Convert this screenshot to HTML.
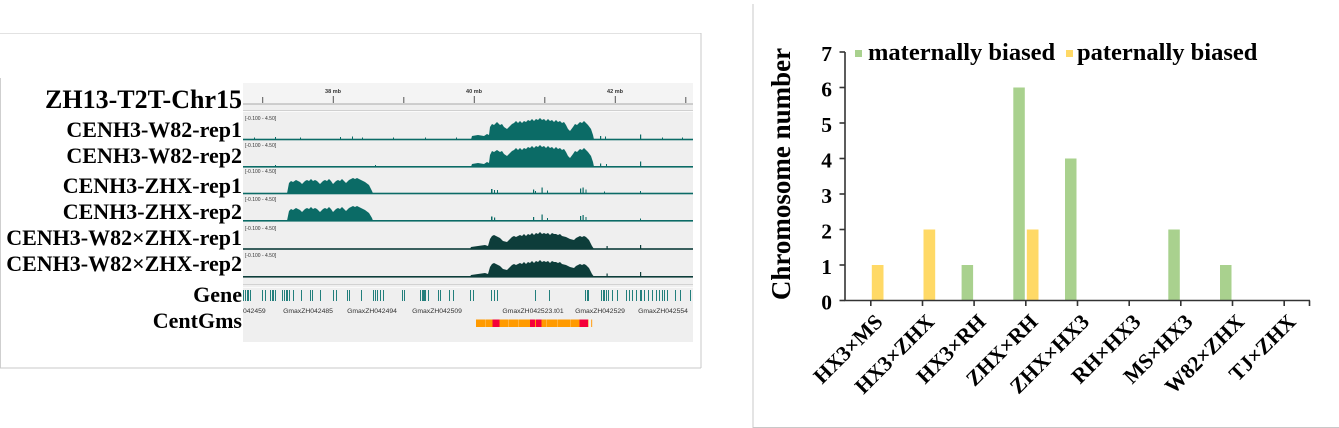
<!DOCTYPE html>
<html><head><meta charset="utf-8">
<style>
html,body{margin:0;padding:0;background:#fff;}
svg{display:block;}
.lab{font-family:"Liberation Serif",serif;font-weight:bold;fill:#000;}
.sm{font-family:"Liberation Sans",sans-serif;fill:#333;}
</style></head>
<body>
<svg width="1339" height="428" viewBox="0 0 1339 428" xmlns="http://www.w3.org/2000/svg">
<!-- Left panel borders -->
<line x1="0" y1="33.5" x2="701" y2="33.5" stroke="#e2e2e2" stroke-width="1"/>
<line x1="0.5" y1="78" x2="0.5" y2="368" stroke="#cfcfcf" stroke-width="1"/>
<line x1="701" y1="33" x2="701" y2="368" stroke="#c8c8c8" stroke-width="1"/>
<line x1="0" y1="368" x2="701" y2="368" stroke="#c8c8c8" stroke-width="1"/>
<!-- Right panel borders -->
<line x1="753" y1="4" x2="753" y2="428" stroke="#c8c8c8" stroke-width="1"/>
<line x1="753" y1="427.5" x2="1339" y2="427.5" stroke="#c8c8c8" stroke-width="1"/>

<!-- IGV background -->
<rect x="243" y="83" width="450" height="259" fill="#efefef"/>
<rect x="243" y="83" width="450" height="21" fill="#f4f4f4"/>
<!-- ruler -->
<g class="sm" font-size="5.5" font-weight="bold" text-anchor="middle">
<text x="333" y="93">38 mb</text>
<text x="474" y="93">40 mb</text>
<text x="615" y="93">42 mb</text>
</g>
<g stroke="#555" stroke-width="1">
<line x1="262.7" y1="97" x2="262.7" y2="103"/>
<line x1="333.3" y1="96" x2="333.3" y2="103"/>
<line x1="403.8" y1="97" x2="403.8" y2="103"/>
<line x1="474.3" y1="96" x2="474.3" y2="103"/>
<line x1="544.8" y1="97" x2="544.8" y2="103"/>
<line x1="615.3" y1="96" x2="615.3" y2="103"/>
<line x1="685.8" y1="97" x2="685.8" y2="103"/>
</g>
<line x1="243" y1="104" x2="693" y2="104" stroke="#a8a8a8" stroke-width="1"/>
<line x1="243" y1="110.5" x2="693" y2="110.5" stroke="#d0d0d0" stroke-width="1"/>
<line x1="243" y1="111.5" x2="693" y2="111.5" stroke="#fafafa" stroke-width="1"/>

<!-- track range labels -->
<g class="sm" font-size="5">
<text x="245" y="120">[-0.100 - 4.50]</text>
<text x="245" y="147">[-0.100 - 4.50]</text>
<text x="245" y="173">[-0.100 - 4.50]</text>
<text x="245" y="201">[-0.100 - 4.50]</text>
<text x="245" y="230">[-0.100 - 4.50]</text>
<text x="245" y="257">[-0.100 - 4.50]</text>
</g>

<!-- Track 1 W82 rep1 baseline 139.5 -->
<g fill="#0b6b66" stroke="none">
<rect x="243" y="138.7" width="450" height="1.6"/>
<path d="M471,139.5 L472,136 L478,135 L484,136 L487,134 L489,135 L490,127 L492,124 L494,125 L497,122 L500,125 L502,124 L504,127 L507,129 L510,126 L512,124 L514,123 L516,121 L518,123 L520,121 L522,123 L524,121 L526,122 L528,120 L530,121 L532,119 L534,121 L536,119 L538,120 L540,118 L542,120 L544,119 L546,121 L548,119 L550,121 L552,120 L554,122 L556,120 L558,122 L560,121 L562,123 L564,122 L566,125 L568,129 L570,131 L573,127 L575,124 L577,125 L580,122 L582,123 L584,121 L586,123 L588,125 L591,129 L593,135 L594,139.5 Z"/>
<rect x="254" y="137.5" width="1" height="2"/><rect x="275" y="137" width="1" height="2.5"/><rect x="300" y="137.5" width="1" height="2"/>
<rect x="340" y="137" width="1" height="2.5"/><rect x="352" y="136.5" width="1" height="3"/><rect x="362" y="137.5" width="1" height="2"/>
<rect x="393" y="137.5" width="1" height="2"/><rect x="425" y="137.5" width="1" height="2"/><rect x="456" y="137.5" width="1" height="2"/>
<rect x="600" y="136" width="1.2" height="3.5"/><rect x="605" y="136.5" width="1" height="3"/><rect x="640" y="134.5" width="1.2" height="5"/>
<rect x="662" y="137.5" width="1" height="2"/><rect x="682" y="137.5" width="1" height="2"/>
</g>
<!-- Track 2 baseline 166.8 -->
<g fill="#0b6b66">
<rect x="243" y="166" width="450" height="1.6"/>
<path d="M471,166.8 L472,164 L478,163 L484,164 L487,162 L489,163 L490,155 L492,151 L494,152 L497,150 L500,152 L502,151 L504,154 L507,156 L510,153 L512,151 L514,150 L516,148 L518,150 L520,148 L522,150 L524,148 L526,149 L528,147 L530,148 L532,146 L534,148 L536,146 L538,147 L540,145 L542,147 L544,146 L546,148 L548,146 L550,148 L552,147 L554,149 L556,147 L558,149 L560,148 L562,150 L564,149 L566,152 L568,156 L570,158 L573,154 L575,151 L577,152 L580,149 L582,150 L584,148 L586,150 L588,152 L591,156 L593,162 L594,166.8 Z"/>
<rect x="275" y="165" width="1" height="2"/><rect x="375" y="165" width="1" height="2"/>
<rect x="600" y="163.5" width="1.2" height="3.5"/><rect x="606" y="164" width="1" height="3"/><rect x="640" y="161.5" width="1.2" height="5.5"/>
</g>
<!-- Track 3 ZHX rep1 baseline 193.5 -->
<g fill="#0b6b66">
<rect x="243" y="192.7" width="450" height="1.6"/>
<path d="M287,193.5 L289,183 L291,181 L293,182 L296,180 L298,181 L300,182 L302,184 L305,181 L307,180 L309,181 L311,179 L313,181 L315,180 L317,181 L320,184 L323,181 L325,180 L327,181 L329,179 L331,181 L333,184 L336,181 L338,180 L340,181 L342,179 L344,181 L346,183 L349,180 L351,179 L353,178 L355,179 L357,178 L359,179 L361,180 L363,181 L365,182 L369,185 L372,191 L373,193.5 Z"/>
<rect x="491" y="189" width="1.5" height="4.5"/><rect x="494" y="190" width="1" height="3.5"/><rect x="497" y="190" width="1" height="3.5"/>
<rect x="533" y="189.5" width="1.2" height="4"/><rect x="535" y="191" width="1" height="2.5"/><rect x="541.5" y="187.5" width="1.2" height="6"/><rect x="547" y="190.5" width="1" height="3"/>
<rect x="580" y="188.5" width="1.2" height="5"/><rect x="582.5" y="187.5" width="1.2" height="6"/><rect x="585.5" y="189.5" width="1" height="4"/>
<rect x="640" y="191" width="1" height="2.5"/><rect x="604" y="191.5" width="1" height="2"/>
</g>
<!-- Track 4 baseline 220.8 -->
<g fill="#0b6b66">
<rect x="243" y="220" width="450" height="1.6"/>
<path d="M287,220.8 L289,211 L291,209 L293,210 L296,208 L298,209 L300,210 L302,212 L305,209 L307,208 L309,209 L311,207 L313,209 L315,208 L317,209 L320,212 L323,209 L325,208 L327,209 L329,207 L331,209 L333,212 L336,209 L338,208 L340,209 L342,207 L344,209 L346,211 L349,208 L351,207 L353,206 L355,207 L357,206 L359,207 L361,208 L365,210 L369,213 L372,218 L373,220.8 Z"/>
<rect x="491" y="216.5" width="1.5" height="4.5"/><rect x="494" y="217.5" width="1.2" height="3.5"/>
<rect x="533" y="217" width="1.2" height="4"/><rect x="541.5" y="214.5" width="1.2" height="6.5"/><rect x="547" y="218" width="1" height="3"/>
<rect x="580" y="216" width="1.2" height="5"/><rect x="582.5" y="215" width="1.2" height="6"/><rect x="585.5" y="217" width="1" height="4"/>
<rect x="640" y="218.5" width="1" height="2.5"/>
</g>
<!-- Track 5 W82xZHX rep1 baseline 249 -->
<g fill="#0d3d3a">
<rect x="243" y="248.2" width="450" height="1.6"/>
<path d="M470,249 L471,247 L478,246 L485,245 L488,246 L490,239 L492,236 L494,235 L496,236 L498,237 L500,238 L503,241 L507,242 L510,239 L512,237 L514,236 L516,237 L518,236 L520,235 L522,236 L524,234 L526,236 L528,234 L530,235 L532,233 L534,235 L536,233 L538,234 L540,232 L542,234 L544,233 L546,234 L548,233 L550,235 L552,233 L554,234 L556,234 L558,235 L560,234 L562,236 L566,237 L570,239 L574,240 L576,238 L578,237 L580,236 L582,237 L584,236 L586,237 L589,240 L592,246 L594,249 Z"/>
<rect x="606.5" y="246" width="1.2" height="3"/><rect x="640" y="245" width="1.2" height="4"/>
</g>
<!-- Track 6 baseline 276.8 -->
<g fill="#0d3d3a">
<rect x="243" y="276" width="450" height="1.6"/>
<path d="M470,276.8 L471,275 L478,274 L485,273 L488,274 L490,267 L492,264 L494,263 L496,264 L498,265 L500,266 L503,269 L507,270 L510,267 L512,265 L514,264 L516,265 L518,264 L520,263 L522,264 L524,262 L526,264 L528,262 L530,263 L532,261 L534,263 L536,261 L538,262 L540,260 L542,262 L544,261 L546,262 L548,261 L550,263 L552,261 L554,262 L556,262 L558,263 L560,262 L562,264 L566,265 L570,267 L574,268 L576,266 L578,265 L580,264 L582,265 L584,264 L586,265 L589,268 L592,274 L594,276.8 Z"/>
<rect x="606.5" y="273.5" width="1.2" height="3.3"/><rect x="640" y="272" width="1.2" height="4.8"/>
</g>
<line x1="243" y1="284.5" x2="693" y2="284.5" stroke="#d2d2d2" stroke-width="1"/>
<line x1="243" y1="287.5" x2="693" y2="287.5" stroke="#fafafa" stroke-width="1"/>

<!-- Gene features -->
<g fill="#237f7c">
<rect x="243" y="290" width="1" height="11"/><rect x="245" y="290" width="1" height="11"/><rect x="247" y="290" width="2" height="11"/><rect x="250" y="290" width="1" height="11"/>
<rect x="262" y="290" width="1" height="11"/><rect x="265" y="290" width="1" height="11"/><rect x="270" y="290" width="1" height="11"/><rect x="272" y="290" width="2" height="11"/><rect x="275" y="290" width="1" height="11"/>
<rect x="282" y="290" width="1" height="11"/><rect x="284" y="290" width="1" height="11"/><rect x="286" y="290" width="2" height="11"/><rect x="289" y="290" width="1" height="11"/>
<rect x="293" y="290" width="1" height="11"/><rect x="301" y="290" width="1" height="11"/><rect x="310" y="290" width="1" height="11"/><rect x="312" y="290" width="1" height="11"/><rect x="320" y="290" width="1" height="11"/>
<rect x="333" y="290" width="1" height="11"/><rect x="336" y="290" width="1" height="11"/><rect x="347" y="290" width="1" height="11"/><rect x="349" y="290" width="1" height="11"/><rect x="361" y="290" width="1" height="11"/>
<rect x="373" y="290" width="1" height="11"/><rect x="375" y="290" width="1" height="11"/><rect x="377" y="290" width="1" height="11"/><rect x="380" y="290" width="1" height="11"/><rect x="383" y="290" width="1" height="11"/>
<rect x="402" y="290" width="1" height="11"/><rect x="404" y="290" width="1" height="11"/>
<rect x="420" y="290" width="1" height="11"/><rect x="422" y="290" width="4" height="11"/><rect x="428" y="290" width="1" height="11"/>
<rect x="438" y="290" width="1" height="11"/><rect x="440" y="290" width="1" height="11"/><rect x="449" y="290" width="1" height="11"/><rect x="453" y="290" width="1" height="11"/>
<rect x="470" y="290" width="1" height="11"/><rect x="473" y="290" width="1" height="11"/><rect x="491" y="290" width="1" height="11"/><rect x="494" y="290" width="1" height="11"/><rect x="497" y="290" width="1" height="11"/>
<rect x="535" y="290" width="1" height="11"/><rect x="549" y="290" width="1" height="11"/>
<rect x="585" y="290" width="1" height="11"/><rect x="587" y="290" width="2" height="11"/>
<rect x="601" y="290" width="1" height="11"/><rect x="603" y="290" width="2" height="11"/><rect x="606" y="290" width="1" height="11"/><rect x="608" y="290" width="1" height="11"/><rect x="612" y="290" width="1" height="11"/>
<rect x="617" y="290" width="1" height="11"/><rect x="626" y="290" width="1" height="11"/><rect x="629" y="290" width="1" height="11"/><rect x="632" y="290" width="1" height="11"/><rect x="636" y="290" width="1" height="11"/>
<rect x="640" y="290" width="2" height="11"/><rect x="644" y="290" width="1" height="11"/><rect x="648" y="290" width="1" height="11"/><rect x="652" y="290" width="1" height="11"/><rect x="656" y="290" width="1" height="11"/>
<rect x="659" y="290" width="1" height="11"/><rect x="662" y="290" width="1" height="11"/><rect x="664" y="290" width="1" height="11"/><rect x="667" y="290" width="1" height="11"/><rect x="675" y="290" width="1" height="11"/>
<rect x="680" y="290" width="1" height="11"/><rect x="690" y="290" width="1" height="11"/>
</g>
<!-- gene names -->
<g class="sm" font-size="6.8" text-anchor="middle">
<text x="243" y="313" text-anchor="start">042459</text>
<text x="308" y="313">GmaxZH042485</text>
<text x="372" y="313">GmaxZH042494</text>
<text x="437" y="313">GmaxZH042509</text>
<text x="533" y="313">GmaxZH042523.t01</text>
<text x="600" y="313">GmaxZH042529</text>
<text x="663" y="313">GmaxZH042554</text>
</g>
<!-- CentGms -->
<rect x="476" y="319.5" width="112.5" height="7.5" fill="#ff9a00"/>
<rect x="591" y="319.5" width="1.2" height="7.5" fill="#ffaa33"/>
<rect x="492.5" y="319.5" width="7" height="7.5" fill="#f5003a"/>
<rect x="530" y="319.5" width="5" height="7.5" fill="#f5003a"/>
<rect x="536" y="319.5" width="5.5" height="7.5" fill="#f5003a"/>
<rect x="579.5" y="319.5" width="8.5" height="7.5" fill="#f5003a"/>
<g fill="#ffc266">
<rect x="485" y="319.5" width="0.6" height="7.5"/><rect x="508" y="319.5" width="0.6" height="7.5"/><rect x="518" y="319.5" width="0.6" height="7.5"/>
<rect x="546" y="319.5" width="0.6" height="7.5"/><rect x="557" y="319.5" width="0.6" height="7.5"/><rect x="570" y="319.5" width="0.6" height="7.5"/>
</g>

<!-- Left labels -->
<g class="lab" text-anchor="end">
<text x="242" y="108" font-size="26">ZH13-T2T-Chr15</text>
<text x="242" y="137" font-size="22">CENH3-W82-rep1</text>
<text x="242" y="163" font-size="22">CENH3-W82-rep2</text>
<text x="242" y="193" font-size="22">CENH3-ZHX-rep1</text>
<text x="242" y="219" font-size="22">CENH3-ZHX-rep2</text>
<text x="242" y="245" font-size="22">CENH3-W82×ZHX-rep1</text>
<text x="242" y="271" font-size="22">CENH3-W82×ZHX-rep2</text>
<text x="242" y="302" font-size="22">Gene</text>
<text x="242" y="328" font-size="22">CentGms</text>
</g>

<!-- ===== Right chart ===== -->
<!-- legend -->
<rect x="855" y="50" width="7" height="7" fill="#a9d18e"/>
<text class="lab" x="868" y="60" font-size="24.5">maternally biased</text>
<rect x="1066" y="50" width="7" height="7" fill="#ffd966"/>
<text class="lab" x="1077" y="60" font-size="24.5">paternally biased</text>

<!-- y title -->
<text class="lab" font-size="27" text-anchor="middle" transform="translate(790,174) rotate(-90)">Chromosome number</text>

<!-- bars: centers 870.8 + 51.67*i -->
<g fill="#a9d18e">
<rect x="961.6" y="265" width="11.5" height="35.5"/>
<rect x="1013.3" y="87.5" width="11.5" height="213"/>
<rect x="1065" y="158.5" width="11.5" height="142"/>
<rect x="1168.3" y="229.5" width="11.5" height="71"/>
<rect x="1220" y="265" width="11.5" height="35.5"/>
</g>
<g fill="#ffd966">
<rect x="871.8" y="265" width="11.7" height="35.5"/>
<rect x="923.5" y="229.5" width="11.7" height="71"/>
<rect x="1026.8" y="229.5" width="11.7" height="71"/>
</g>

<!-- axes -->
<g stroke="#333" stroke-width="1.6" fill="none">
<line x1="845" y1="52" x2="845" y2="301"/>
<line x1="844.5" y1="300.5" x2="1310" y2="300.5"/>
<line x1="839.5" y1="52" x2="845" y2="52"/>
<line x1="839.5" y1="87.5" x2="845" y2="87.5"/>
<line x1="839.5" y1="123" x2="845" y2="123"/>
<line x1="839.5" y1="158.5" x2="845" y2="158.5"/>
<line x1="839.5" y1="194" x2="845" y2="194"/>
<line x1="839.5" y1="229.5" x2="845" y2="229.5"/>
<line x1="839.5" y1="265" x2="845" y2="265"/>
<line x1="839.5" y1="300.5" x2="845" y2="300.5"/>
<line x1="870.8" y1="300.5" x2="870.8" y2="306"/>
<line x1="922.5" y1="300.5" x2="922.5" y2="306"/>
<line x1="974.1" y1="300.5" x2="974.1" y2="306"/>
<line x1="1025.8" y1="300.5" x2="1025.8" y2="306"/>
<line x1="1077.5" y1="300.5" x2="1077.5" y2="306"/>
<line x1="1129.2" y1="300.5" x2="1129.2" y2="306"/>
<line x1="1180.8" y1="300.5" x2="1180.8" y2="306"/>
<line x1="1232.5" y1="300.5" x2="1232.5" y2="306"/>
<line x1="1284.2" y1="300.5" x2="1284.2" y2="306"/>
<line x1="1309.5" y1="300.5" x2="1309.5" y2="306"/>
</g>

<!-- y tick labels -->
<g class="lab" font-size="21.5" text-anchor="end">
<text x="832" y="61">7</text>
<text x="832" y="96.5">6</text>
<text x="832" y="132">5</text>
<text x="832" y="167.5">4</text>
<text x="832" y="203">3</text>
<text x="832" y="238.5">2</text>
<text x="832" y="274">1</text>
<text x="832" y="309.5">0</text>
</g>

<!-- x labels -->
<g class="lab" font-size="21.5" text-anchor="end">
<text transform="translate(884,323) rotate(-45)">HX3×MS</text>
<text transform="translate(935.5,323) rotate(-45)">HX3×ZHX</text>
<text transform="translate(987,323) rotate(-45)">HX3×RH</text>
<text transform="translate(1039,323) rotate(-45)">ZHX×RH</text>
<text transform="translate(1090.5,323) rotate(-45)">ZHX×HX3</text>
<text transform="translate(1142,323) rotate(-45)">RH×HX3</text>
<text transform="translate(1194,323) rotate(-45)">MS×HX3</text>
<text transform="translate(1245.5,323) rotate(-45)">W82×ZHX</text>
<text transform="translate(1297,323) rotate(-45)">TJ×ZHX</text>
</g>
</svg>
</body></html>
